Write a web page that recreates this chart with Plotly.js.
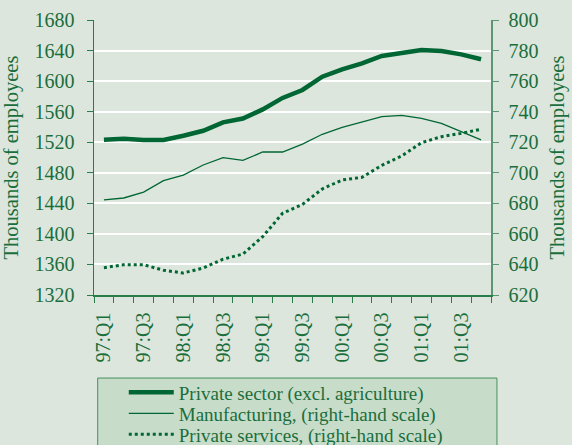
<!DOCTYPE html>
<html>
<head>
<meta charset="utf-8">
<script src="https://cdn.plot.ly/plotly-3.0.1.min.js"></script>
<style>
html,body{margin:0;padding:0;background:#dde6dd;}
#chart{width:572px;height:445px;}
</style>
</head>
<body>
<div id="chart"></div>
<script>
const quarters = ['97:Q1','97:Q2','97:Q3','97:Q4','98:Q1','98:Q2','98:Q3','98:Q4','99:Q1','99:Q2','99:Q3','99:Q4','00:Q1','00:Q2','00:Q3','00:Q4','01:Q1','01:Q2','01:Q3','01:Q4'];
const tickLabels = ['97:Q1','','97:Q3','','98:Q1','','98:Q3','','99:Q1','','99:Q3','','00:Q1','','00:Q3','','01:Q1','','01:Q3',''];
const privateSector = [1523.3,1524.6,1523,1523,1528.5,1535,1546,1551,1563,1578,1588.4,1605.8,1615.4,1623.3,1632.9,1636.4,1640.7,1639.4,1635,1628.6];
const manufacturing = [682.2,683.5,687.4,694.8,698.5,705.1,709.9,708.1,713.6,713.6,718.8,725.2,729.7,733.4,736.7,737.6,735.6,732.4,726.9,721.5];
const services = [637.9,639.8,639.8,636.2,634.4,637.7,643.4,646.8,658.2,673.5,679.3,689.4,695.3,697,704.9,711,719.7,723.6,725.8,728.5];

const lineCol = 'rgb(0,102,51)';
const textCol = 'rgb(26,110,60)';
const axisCol = 'rgb(40,125,75)';
const fontFam = '"Liberation Serif", "Times New Roman", serif';
const legFont = {family: fontFam, size: 19, color: textCol};

const traces = [
  {x: quarters, y: privateSector, type: 'scatter', mode: 'lines', name: 'Private sector (excl. agriculture)',
   line: {color: lineCol, width: 4.5}, yaxis: 'y', legend: 'legend'},
  {x: quarters, y: manufacturing, type: 'scatter', mode: 'lines', name: 'Manufacturing, (right-hand scale)',
   line: {color: lineCol, width: 1.3}, yaxis: 'y2', legend: 'legend2'},
  {x: quarters, y: services, type: 'scatter', mode: 'lines', name: 'Private services, (right-hand scale)',
   line: {color: lineCol, width: 3, dash: 'dot'}, yaxis: 'y2', legend: 'legend3'}
];

function leg(y) {
  return {x: 0.075, xanchor: 'left', y: y, yanchor: 'middle',
          bgcolor: 'rgba(0,0,0,0)', borderwidth: 0, font: legFont, itemwidth: 45};
}

const layout = {
  width: 572, height: 445,
  margin: {l: 94, r: 81, t: 20, b: 150, autoexpand: false},
  paper_bgcolor: 'rgb(221,230,221)',
  plot_bgcolor: 'rgb(221,230,221)',
  font: {family: fontFam, size: 20, color: textCol},
  showlegend: true,
  legend: leg(-0.3545),
  legend2: leg(-0.4309),
  legend3: leg(-0.5073),
  xaxis: {
    type: 'category', range: [-0.5, 19.5],
    tickvals: quarters, ticktext: tickLabels,
    tickson: 'boundaries', ticks: 'outside', ticklen: 6, tickcolor: axisCol, tickwidth: 1,
    tickangle: -90, showgrid: false, zeroline: false,
    showline: true, linecolor: axisCol, linewidth: 1.5,
    ticklabelstandoff: 8,
    tickfont: {family: fontFam, size: 20, color: textCol}
  },
  yaxis: {
    range: [1320, 1680], dtick: 40, tick0: 1320,
    ticks: 'outside', ticklen: 6, tickcolor: axisCol,
    showline: true, linecolor: axisCol, linewidth: 1.5,
    showgrid: true, gridcolor: '#ffffff', gridwidth: 2, zeroline: false,
    ticklabelstandoff: 8, automargin: true,
    title: {text: 'Thousands of employees', standoff: 12, font: {family: fontFam, size: 20.5, color: textCol}},
    tickfont: {family: fontFam, size: 20, color: textCol}
  },
  yaxis2: {
    range: [620, 800], dtick: 20, tick0: 620, overlaying: 'y', side: 'right',
    ticks: 'outside', ticklen: 6, tickcolor: 'rgb(90,150,115)',
    showline: true, linecolor: 'rgb(90,150,115)', linewidth: 1.5,
    showgrid: false, zeroline: false,
    ticklabelstandoff: 6, automargin: true,
    title: {text: 'Thousands of employees', standoff: 12, font: {family: fontFam, size: 20.5, color: textCol}},
    tickfont: {family: fontFam, size: 20, color: textCol}
  },
  shapes: [{
    type: 'rect', xref: 'paper', yref: 'paper', layer: 'below',
    x0: 0.0093, x1: 1.015, y0: -0.62, y1: -0.302,
    fillcolor: 'rgb(200,220,202)', line: {color: 'rgb(70,145,95)', width: 1}
  }]
};

Plotly.newPlot('chart', traces, layout, {displayModeBar: false, staticPlot: true});
</script>
</body>
</html>
